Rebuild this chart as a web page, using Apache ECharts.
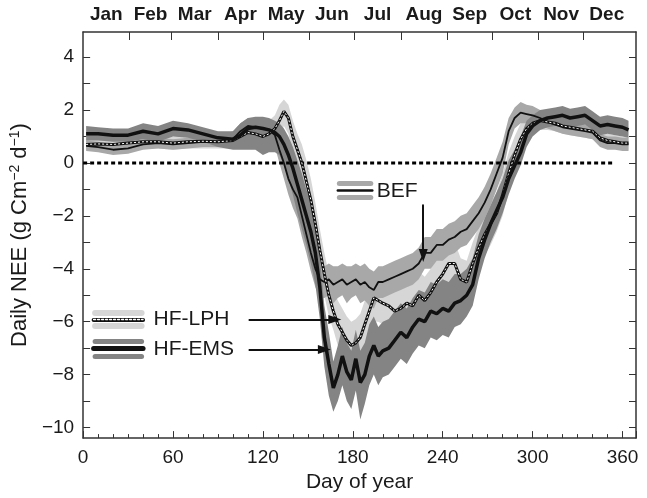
<!DOCTYPE html>
<html>
<head>
<meta charset="utf-8">
<script src="https://cdn.jsdelivr.net/npm/echarts@6/dist/echarts.min.js"></script>
<style>
  html, body { margin: 0; padding: 0; background: #fff; }
</style>
</head>
<body>
<div id="chart" style="width: 647px; height: 498px"></div>
<script>
// day of year for every sample below
const days = [2, 10, 20, 30, 40, 50, 60, 70, 80, 90,
  100, 105, 110, 115, 120, 124, 128, 131, 134, 137,
  140, 143, 146, 149, 152, 155, 158, 161, 164, 167,
  170, 173, 176, 179, 182, 185, 188, 191, 194, 197,
  200, 204, 208, 212, 216, 220, 224, 228, 232, 236,
  240, 244, 248, 252, 256, 260, 264, 268, 272, 276,
  280, 284, 288, 292, 296, 300, 305, 310, 315, 320,
  325, 330, 335, 340, 345, 350, 355, 360, 364];

// BEF (thin line, mid grey band)
const befMean = [0.65, 0.6, 0.5, 0.55, 0.7, 0.75, 0.7, 0.75, 0.8, 0.8,
  0.9, 1.2, 1.4, 1.35, 1.3, 1.25, 1.05, 0.5, 0.0, -0.6,
  -1.0, -1.3, -2.0, -2.7, -3.4, -4.0, -4.4, -4.5, -4.4, -4.6,
  -4.5, -4.4, -4.6, -4.5, -4.4, -4.6, -4.5, -4.7, -4.8, -4.5,
  -4.5, -4.4, -4.3, -4.2, -4.1, -4.0, -3.8, -3.4, -3.4, -3.1,
  -3.1, -2.9, -2.8, -2.6, -2.5, -2.2, -1.9, -1.5, -1.0, -0.4,
  0.2, 1.2, 1.7, 1.9, 1.85, 1.8, 1.7, 1.55, 1.45, 1.35,
  1.3, 1.25, 1.2, 1.15, 0.85, 0.75, 0.75, 0.7, 0.7];
const befLow = [0.45, 0.4, 0.3, 0.35, 0.5, 0.55, 0.5, 0.55, 0.6, 0.6,
  0.6, 0.9, 1.1, 1.05, 0.95, 0.85, 0.6, 0.0, -0.6, -1.2,
  -1.7, -2.1, -2.8, -3.4, -4.1, -4.7, -5.1, -5.1, -5.0, -5.3,
  -5.1, -5.0, -5.3, -5.1, -5.0, -5.3, -5.2, -5.4, -5.5, -5.1,
  -5.1, -5.0, -4.9, -4.8, -4.7, -4.6, -4.4, -4.0, -4.0, -3.7,
  -3.7, -3.5, -3.4, -3.2, -3.1, -2.8, -2.5, -2.1, -1.6, -1.0,
  -0.4, 0.7, 1.3, 1.5, 1.5, 1.45, 1.4, 1.3, 1.2, 1.1,
  1.05, 1.0, 0.95, 0.9, 0.6, 0.5, 0.5, 0.45, 0.45];
const befHigh = [0.85, 0.8, 0.7, 0.75, 0.9, 0.95, 0.9, 0.95, 1.0, 1.0,
  1.2, 1.5, 1.7, 1.65, 1.65, 1.65, 1.5, 1.0, 0.6, 0.0,
  -0.3, -0.5, -1.2, -2.0, -2.7, -3.3, -3.7, -3.9, -3.8, -3.9,
  -3.9, -3.8, -3.9, -3.9, -3.8, -3.9, -3.8, -4.0, -4.1, -3.9,
  -3.9, -3.8, -3.7, -3.6, -3.5, -3.4, -3.2, -2.8, -2.8, -2.5,
  -2.5, -2.3, -2.2, -2.0, -1.9, -1.6, -1.3, -0.9, -0.4, 0.2,
  0.8, 1.7, 2.1, 2.3, 2.2, 2.15, 2.0, 1.8, 1.7, 1.6,
  1.55, 1.5, 1.45, 1.4, 1.1, 1.0, 1.0, 0.95, 0.95];

// HF-LPH (dotted line, light grey band)
const lphMean = [0.7, 0.72, 0.7, 0.75, 0.8, 0.8, 0.75, 0.8, 0.82, 0.8,
  0.85, 1.0, 1.15, 1.1, 1.0, 1.1, 1.3, 1.6, 1.95, 1.7,
  1.0, 0.5, 0.0, -0.7, -1.4, -2.3, -3.3, -4.2, -5.0, -5.6,
  -6.1, -6.4, -6.7, -6.9, -6.8, -6.6, -6.1, -5.6, -5.1, -5.2,
  -5.3, -5.4, -5.6, -5.5, -5.3, -5.4, -5.0, -5.2, -4.9, -4.5,
  -4.2, -3.8, -3.8, -4.4, -4.5, -3.8, -3.2, -2.7, -2.3, -1.9,
  -1.2, -0.4, 0.3, 0.9, 1.3, 1.5, 1.6, 1.55, 1.5, 1.4,
  1.35, 1.3, 1.25, 1.2, 0.95, 0.85, 0.8, 0.75, 0.75];
const lphLow = [0.5, 0.5, 0.45, 0.5, 0.55, 0.55, 0.5, 0.55, 0.55, 0.55,
  0.55, 0.7, 0.8, 0.75, 0.6, 0.6, 0.8, 1.0, 1.4, 1.1,
  0.3, -0.3, -0.9, -1.5, -2.2, -3.1, -4.1, -5.0, -5.8, -6.3,
  -6.9, -7.2, -7.4, -7.7, -7.6, -7.4, -6.9, -6.4, -6.0, -6.0,
  -6.1, -6.3, -6.4, -6.3, -6.1, -6.2, -5.8, -6.0, -5.7, -5.3,
  -5.0, -4.6, -4.6, -5.1, -5.2, -4.6, -4.0, -3.5, -3.1, -2.6,
  -2.0, -1.1, -0.3, 0.4, 0.9, 1.1, 1.25, 1.25, 1.2, 1.1,
  1.05, 1.0, 0.95, 0.9, 0.7, 0.6, 0.55, 0.5, 0.5];
const lphHigh = [0.9, 0.95, 0.95, 1.0, 1.05, 1.05, 1.0, 1.05, 1.1, 1.05,
  1.15, 1.3, 1.5, 1.45, 1.4, 1.6, 1.8, 2.2, 2.4, 2.2,
  1.6, 1.1, 0.7, 0.1, -0.6, -1.5, -2.5, -3.4, -4.2, -4.8,
  -5.2, -5.5, -5.8, -6.0, -5.9, -5.7, -5.2, -4.7, -4.2, -4.3,
  -4.4, -4.5, -4.7, -4.6, -4.4, -4.5, -4.1, -4.3, -4.0, -3.6,
  -3.3, -3.0, -3.0, -3.6, -3.7, -3.0, -2.4, -1.9, -1.5, -1.1,
  -0.4, 0.4, 1.0, 1.5, 1.8, 1.9, 2.0, 1.9, 1.85, 1.7,
  1.65, 1.6, 1.55, 1.5, 1.25, 1.1, 1.05, 1.0, 1.0];

// HF-EMS (thick line, dark grey band)
const emsMean = [1.1, 1.1, 1.05, 1.05, 1.2, 1.1, 1.3, 1.25, 1.1, 0.95,
  0.9, 1.05, 1.3, 1.35, 1.3, 1.25, 1.15, 1.0, 0.7, 0.3,
  -0.2, -0.8, -1.4, -2.0, -2.6, -3.4, -4.7, -6.6, -7.6, -8.5,
  -8.0, -7.3, -7.9, -8.2, -7.4, -8.3, -8.0, -7.3, -6.9, -7.3,
  -7.1, -7.0, -6.7, -6.4, -6.6, -6.2, -5.9, -6.0, -5.6, -5.7,
  -5.5, -5.6, -5.3, -5.2, -5.0, -4.6, -3.6, -2.9, -2.3, -1.8,
  -1.3, -0.6, -0.1, 0.4, 1.1, 1.4, 1.6, 1.7, 1.75, 1.8,
  1.7, 1.75, 1.8, 1.6, 1.4, 1.45, 1.4, 1.35, 1.25];
const emsLow = [0.85, 0.85, 0.8, 0.8, 0.9, 0.8, 1.0, 0.95, 0.8, 0.6,
  0.5, 0.5, 0.5, 0.5, 0.3, 0.4, 0.4, 0.3, -0.1, -0.6,
  -1.2, -1.9, -2.5, -3.1, -3.8, -4.6, -5.9, -7.7, -8.8, -9.4,
  -9.0, -8.4, -9.0, -9.3, -8.6, -9.7, -9.1, -8.4, -8.0, -8.4,
  -8.1, -8.0, -7.7, -7.4, -7.6, -7.2, -6.9, -7.0, -6.6, -6.7,
  -6.5, -6.6, -6.2, -6.1, -5.8, -5.4, -4.4, -3.6, -3.0, -2.5,
  -1.9, -1.2, -0.6, -0.1, 0.6, 1.0, 1.25, 1.35, 1.4, 1.45,
  1.35, 1.4, 1.45, 1.25, 1.05, 1.1, 1.05, 1.0, 0.95];
const emsHigh = [1.4, 1.35, 1.3, 1.3, 1.5, 1.4, 1.6, 1.5, 1.35, 1.2,
  1.2, 1.5, 1.7, 1.75, 1.75, 1.7, 1.6, 1.5, 1.3, 1.0,
  0.6, 0.1, -0.4, -1.0, -1.5, -2.3, -3.6, -5.4, -6.4, -7.5,
  -6.9, -6.2, -6.8, -7.1, -6.3, -7.1, -6.8, -6.1, -5.8, -6.2,
  -6.0, -5.9, -5.6, -5.3, -5.5, -5.1, -4.8, -4.9, -4.5, -4.6,
  -4.4, -4.5, -4.2, -4.2, -4.0, -3.6, -2.7, -2.1, -1.6, -1.1,
  -0.6, 0.1, 0.5, 1.0, 1.6, 1.8, 2.0, 2.05, 2.1, 2.15,
  2.05, 2.1, 2.15, 1.95, 1.75, 1.8, 1.75, 1.7, 1.6];

// axes
const monthNames = ["Jan", "Feb", "Mar", "Apr", "May", "Jun", "Jul", "Aug", "Sep", "Oct", "Nov", "Dec"];
const monthStarts = [0, 31, 59, 90, 120, 151, 181, 212, 243, 273, 304, 334, 365];
const yLabels = [-10, -8, -6, -4, -2, 0, 2, 4];
const yTicks = [-10, -9, -8, -7, -6, -5, -4, -3, -2, -1, 0, 1, 2, 3, 4];

const FONT = "'Liberation Sans', Arial, sans-serif";
const INK = "#1a1a1a";
const monthMids = monthNames.map((m, i) => (monthStarts[i] + monthStarts[i + 1]) / 2);

function pairs(arr) {
  return days.map((d, i) => [d, arr[i]]);
}

// grey band drawn as one polygon from lows and highs
function band(name, lo, hi, color) {
  return {
    name: name,
    type: "custom",
    silent: true,
    clip: true,
    data: [[days[0], lo[0]]],
    encode: { x: 0, y: 1 },
    renderItem: function (params, api) {
      const pts = [];
      for (let i = 0; i < days.length; i++) pts.push(api.coord([days[i], hi[i]]));
      for (let i = days.length - 1; i >= 0; i--) pts.push(api.coord([days[i], lo[i]]));
      return { type: "polygon", shape: { points: pts }, style: { fill: color } };
    },
  };
}

function seg(x1, y1, x2, y2, color, width, type, arrow) {
  return [
    { coord: [x1, y1], symbol: "none", lineStyle: { color: color, width: width, type: type || "solid", cap: "round" } },
    { coord: [x2, y2], symbol: arrow ? "triangle" : "none", symbolSize: arrow ? [9, 13] : 0 },
  ];
}

const LIGHT = "#d6d6d6", MID = "#a8a8a8", DARK = "#848484";

const chart = echarts.init(document.getElementById("chart"));
chart.setOption({
  animation: false,
  grid: { left: 82, right: 11, top: 32, bottom: 59 },
  xAxis: [
    {
      type: "value", min: 0, max: 369, interval: 60,
      name: "Day of year", nameLocation: "middle", nameGap: 33,
      nameTextStyle: { fontFamily: FONT, fontSize: 21, color: INK },
      axisLine: { onZero: false, lineStyle: { color: "#333", width: 1.5 } },
      axisTick: { inside: true, length: 7, lineStyle: { color: "#333" } },
      minorTick: { show: true, splitNumber: 6, length: 4, lineStyle: { color: "#333" } },
      axisLabel: {
        fontFamily: FONT, fontSize: 19, color: INK, margin: 10,
        formatter: (v) => (v % 60 === 0 ? String(v) : ""),
      },
      splitLine: { show: false },
    },
    {
      type: "value", min: 0, max: 369, position: "top",
      axisLine: { onZero: false, lineStyle: { color: "#333", width: 1.5 } },
      axisTick: { inside: true, length: 8, customValues: monthStarts.slice(1, 12), lineStyle: { color: "#333" } },
      axisLabel: {
        customValues: monthMids, margin: 8,
        fontFamily: FONT, fontSize: 19, fontWeight: "bold", color: INK,
        formatter: (v) => monthNames[monthMids.indexOf(v)] || "",
      },
      splitLine: { show: false },
    },
  ],
  yAxis: [
    {
      type: "value", min: -10.4, max: 4.95,
      name: "Daily NEE (g Cm{sup|−2} d{sup|−1})", nameLocation: "middle", nameGap: 47,
      nameTextStyle: {
        fontFamily: FONT, fontSize: 22, color: INK,
        rich: { sup: { fontFamily: FONT, fontSize: 14, color: INK, verticalAlign: "top", padding: [0, 0, 10, 0] } },
      },
      axisLine: { show: true, onZero: false, lineStyle: { color: "#333", width: 1.5 } },
      axisTick: { show: true, inside: true, length: 7, customValues: yTicks, lineStyle: { color: "#333" } },
      axisLabel: {
        customValues: yLabels, fontFamily: FONT, fontSize: 19, color: INK, margin: 9,
        formatter: (v) => String(v).replace("-", "−"),
      },
      splitLine: { show: false },
    },
    {
      type: "value", min: -10.4, max: 4.95, position: "right",
      axisLine: { show: true, onZero: false, lineStyle: { color: "#333", width: 1.5 } },
      axisTick: { show: true, inside: true, length: 7, customValues: yTicks, lineStyle: { color: "#333" } },
      axisLabel: { show: false },
      splitLine: { show: false },
    },
  ],
  series: [
    band("HF-LPH band", lphLow, lphHigh, LIGHT),
    band("BEF band", befLow, befHigh, MID),
    band("HF-EMS band", emsLow, emsHigh, DARK),
    {
      name: "zero", type: "line", symbol: "none", silent: true, z: 3,
      data: [[0, 0], [355, 0]],
      lineStyle: { color: "#000", width: 3, type: [4, 3] },
      markLine: {
        silent: true, animation: false, label: { show: false }, symbol: "none",
        data: [
          // BEF key + arrow
          seg(171, -0.75, 192, -0.75, MID, 5),
          seg(170, -1.02, 193, -1.02, "#111", 2.5),
          seg(171, -1.29, 192, -1.29, MID, 5),
          seg(227, -1.6, 227, -3.5, "#111", 2, "solid", true),
          // HF-LPH key + arrow
          seg(8, -5.68, 39, -5.68, LIGHT, 6),
          seg(7, -5.92, 40, -5.92, "#111", 4),
          seg(7, -5.92, 40, -5.92, "#fff", 1.3, [2, 2]),
          seg(8, -6.16, 39, -6.16, LIGHT, 6),
          seg(111, -5.92, 168, -5.92, "#111", 2, "solid", true),
          // HF-EMS key + arrow
          seg(8, -6.75, 39, -6.75, DARK, 5),
          seg(7, -7.02, 40, -7.02, "#111", 5),
          seg(8, -7.3, 39, -7.3, DARK, 5),
          seg(111, -7.05, 161, -7.05, "#111", 2, "solid", true),
        ],
      },
    },
    {
      name: "BEF", type: "line", symbol: "none", z: 4, data: pairs(befMean),
      lineStyle: { color: "#111", width: 1.8 },
    },
    {
      name: "HF-LPH", type: "line", symbol: "none", z: 4, data: pairs(lphMean),
      lineStyle: { color: "#111", width: 3 },
    },
    {
      name: "HF-LPH dots", type: "line", symbol: "none", z: 4, data: pairs(lphMean),
      lineStyle: { color: "#fff", width: 1, type: [2, 2] },
    },
    {
      name: "HF-EMS", type: "line", symbol: "none", z: 5, data: pairs(emsMean),
      lineStyle: { color: "#111", width: 3.5 },
    },
  ],
});

// key texts placed in data coordinates
const finder = { xAxisIndex: 0, yAxisIndex: 0 };
function label(text, day, val) {
  const p = chart.convertToPixel(finder, [day, val]);
  return {
    type: "text", x: p[0], y: p[1],
    style: { text: text, fontFamily: FONT, fontSize: 21, fill: INK, verticalAlign: "middle", align: "left" },
  };
}
chart.setOption({
  graphic: [
    label("BEF", 196, -1.05),
    label("HF-LPH", 47, -5.92),
    label("HF-EMS", 47, -7.05),
  ],
});
</script>
</body>
</html>
